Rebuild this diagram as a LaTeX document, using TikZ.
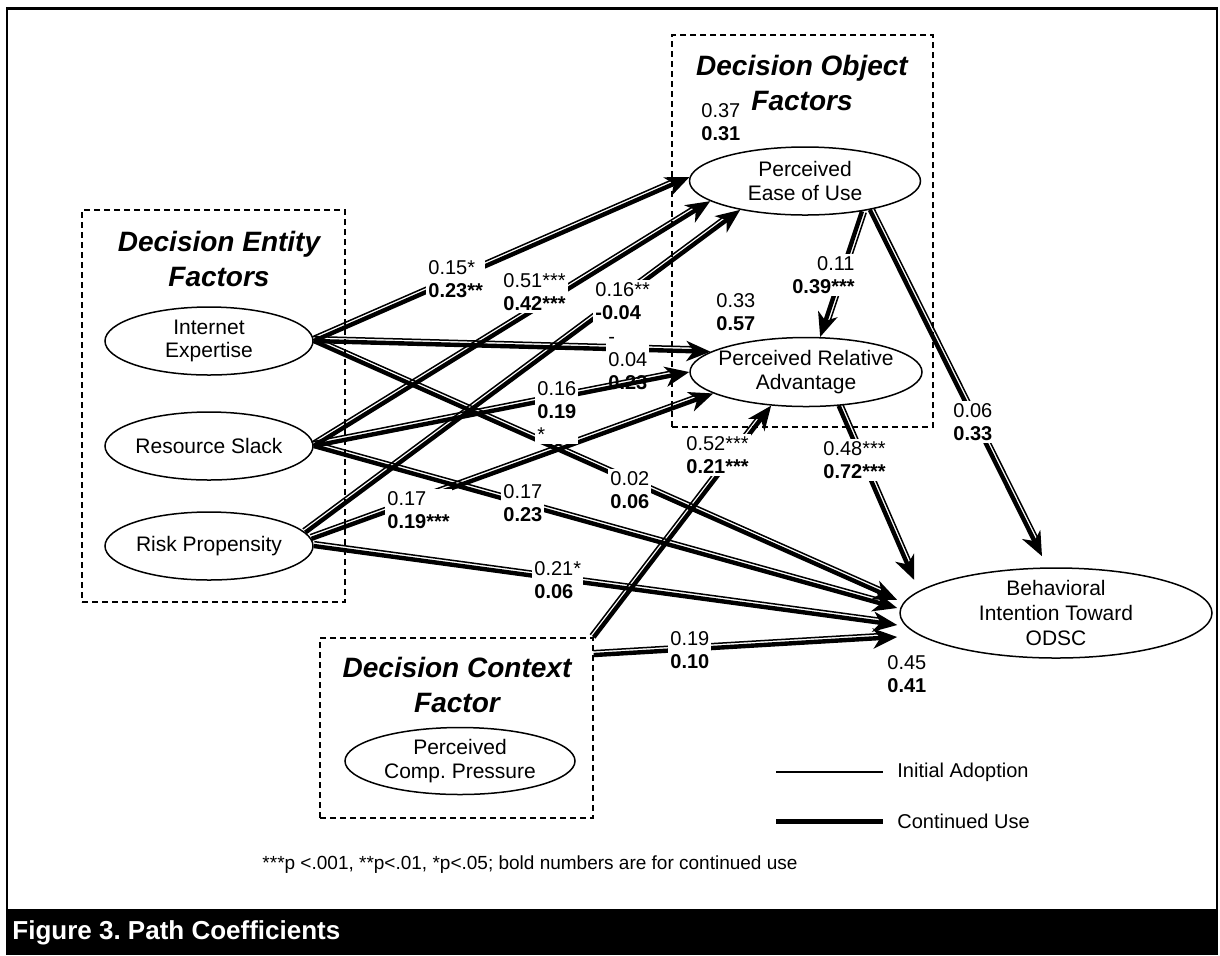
\documentclass[tikz,border=0pt]{standalone}
\usepackage{fontspec}
\setmainfont{Liberation Sans}
\usetikzlibrary{shapes.geometric, arrows.meta, positioning, calc}

\tikzset{
    construct/.style={ellipse, draw, line width=0.75pt, align=center, inner sep=0pt, font=\fontsize{10.5}{11.75}\selectfont},
    group/.style={draw, dash pattern=on 3pt off 2pt, line width=0.7pt, inner sep=0pt},
    grouptitle/.style={align=center, font=\fontsize{14}{17.5}\selectfont\bfseries\itshape},
    coef/.style={fill=white, inner sep=1pt, anchor=west, align=left, font=\fontsize{10}{11.5}\selectfont},
    contline/.style={line width=2.2pt, -{Stealth[length=12pt, width=10pt, inset=3.5pt]}},
    initline/.style={line width=0.75pt, shorten >=8pt}
}

\begin{document}
\begin{tikzpicture}[x=0.5pt, y=-0.5pt]
    \useasboundingbox (0,0) rectangle (1220,955);

    % frame and caption bar
    \draw[line width=1.25pt] (7,8.5) rectangle (1217,910);
    \fill (6,910) rectangle (1218,955);
    \node[anchor=west, inner sep=1.5pt, text=white, font=\fontsize{13}{15}\selectfont\bfseries] (caption) at (9,933) {Figure 3.\ Path Coefficients};

    % factor groups
    \node[group, minimum width=131.5pt, minimum height=196pt] (ent) at (213.5,406) {};
    \node[group, minimum width=130.5pt, minimum height=196pt] (obj) at (802.5,231) {};
    \node[group, minimum width=136.5pt, minimum height=90pt] (ctx) at (456.5,728) {};
    \node[grouptitle] (enttitle) at (219,259) {Decision Entity\\Factors};
    \node[grouptitle] (objtitle) at (802,83) {Decision Object\\Factors};
    \node[grouptitle] (ctxtitle) at (457,685) {Decision Context\\Factor};

    % constructs
    \node[construct, minimum width=104pt, minimum height=34pt] (ie) at (209,341) {Internet\\Expertise};
    \node[construct, minimum width=104pt, minimum height=34pt] (rs) at (209,446) {Resource Slack};
    \node[construct, minimum width=104pt, minimum height=34pt] (rp) at (209,546) {Risk Propensity};
    \node[construct, minimum width=115.5pt, minimum height=34pt] (peou) at (805,181) {Perceived\\Ease of Use};
    \node[construct, minimum width=116pt, minimum height=34.5pt, inner xsep=-3pt] (pra) at (806,372) {Perceived Relative\\Advantage};
    \node[construct, minimum width=115pt, minimum height=33.5pt] (pcp) at (460,761) {Perceived\\Comp.\ Pressure};
    \node[construct, minimum width=156pt, minimum height=45pt, inner ysep=-4pt, font=\fontsize{10.5}{12.5}\selectfont] (bi) at (1056,613) {Behavioral\\Intention Toward\\ODSC};

    % arrow ends in front of the outcome
    \coordinate (biA) at ([shift={(-2,-13)}]bi.west);
    \coordinate (biB) at ([shift={(-2,-5)}]bi.west);
    \coordinate (biC) at ([shift={(-2,12)}]bi.west);
    \coordinate (biD) at ([shift={(-2,24)}]bi.west);
    \coordinate (biE) at ([shift={(15,-33)}]bi.west);
    \coordinate (biF) at ([shift={(-14,-11)}]bi.north);

    % paths: thick = continued use, thin = initial adoption
    \foreach \src/\dst in {ie.east/peou.178, rs.east/peou.192, rp.8/peou.204,
        ie.east/pra.168, rp.4/pra.193, ie.east/biA, rs.east/biB, rp.east/biC,
        ctx.north east/pra.224, ctx.28/biD, peou.332/pra.68, peou.336/biF, pra.314/biE}
    {
        \draw[contline] (\src) -- (\dst);
        \draw[initline] ($(\src)!2.2pt!90:(\dst)$) -- ($(\dst)!2.2pt!-90:(\src)$);
    }

    \node[coef] (c4) at (606,364) {-\\0.04\\\textbf{0.23}};

    \draw[contline] (rs.east) -- (pra.west);
    \draw[initline] ($(rs.east)!2.2pt!90:(pra.west)$) -- ($(pra.west)!2.2pt!-90:(rs.east)$);

    % coefficients
    \node[coef] (c1) at (426,279) {0.15*\\\textbf{0.23**}};
    \node[coef] (c2) at (501,292) {0.51***\\\textbf{0.42***}};
    \node[coef] (c3) at (593,301) {0.16**\\\textbf{-0.04}};
    \node[coef] (c5) at (535,412) {0.16\\\textbf{0.19}\\*};
    \node[coef] (c6) at (385,510) {0.17\\\textbf{0.19***}};
    \node[coef] (c7) at (608,490) {0.02\\\textbf{0.06}};
    \node[coef] (c8) at (501,503) {0.17\\\textbf{0.23}};
    \node[coef] (c9) at (532,580) {0.21*\\\textbf{0.06}};
    \node[coef] (c10) at (684,455) {0.52***\\\textbf{0.21***}};
    \node[coef] (c11) at (668,650) {0.19\\\textbf{0.10}};
    \node[coef, anchor=east, align=right] (c12) at (857,275) {0.11\\\textbf{0.39***}};
    \node[coef] (c13) at (951,422) {0.06\\\textbf{0.33}};
    \node[coef] (c14) at (821,460) {0.48***\\\textbf{0.72***}};

    % explained variance
    \node[coef] (r1) at (699,122) {0.37\\\textbf{0.31}};
    \node[coef] (r2) at (714,312) {0.33\\\textbf{0.57}};
    \node[coef] (r3) at (885,674) {0.45\\\textbf{0.41}};

    % legend
    \node[anchor=west, inner sep=2pt, font=\fontsize{10}{11}\selectfont] (lgi) at (893,772) {Initial Adoption};
    \node[anchor=west, inner sep=2pt, font=\fontsize{10}{11}\selectfont] (lgc) at (893,821) {Continued Use};
    \draw[line width=0.75pt] ([xshift=-58.5pt]lgi.west) -- ([xshift=-5pt]lgi.west);
    \draw[line width=2.5pt] ([xshift=-58.5pt]lgc.west) -- ([xshift=-5pt]lgc.west);

    \node[font=\fontsize{9.5}{11}\selectfont] (note) at (530,865) {***p <.001, **p<.01, *p<.05; bold numbers are for continued use};
\end{tikzpicture}
\end{document}
